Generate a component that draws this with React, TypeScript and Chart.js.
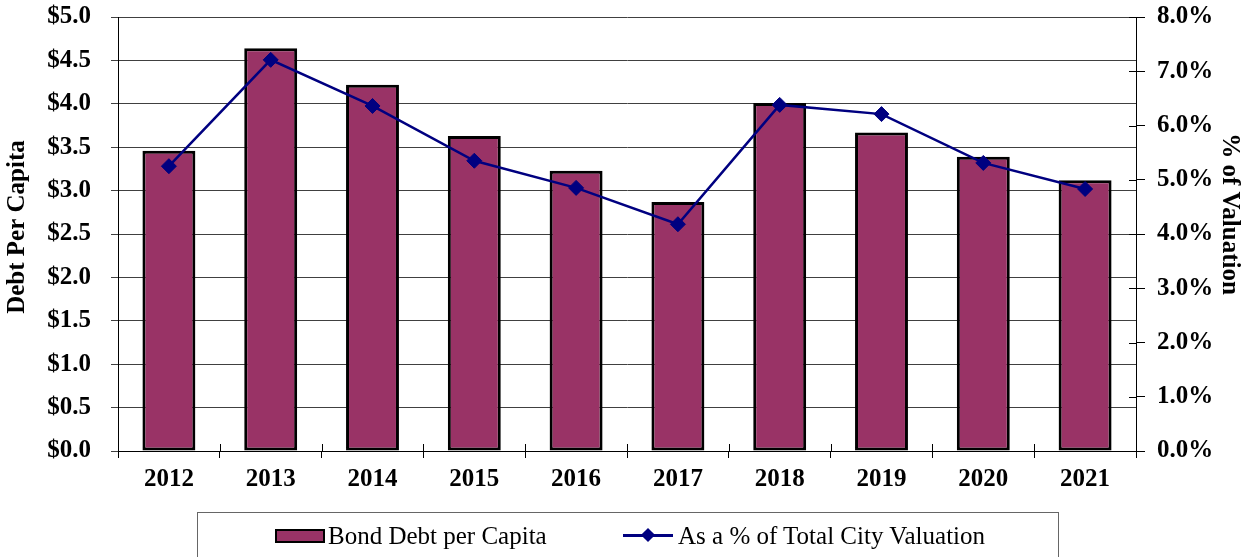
import React, { useEffect, useRef } from "react";
import { Chart, registerables } from "chart.js";

Chart.register(...registerables);

const years = ["2012", "2013", "2014", "2015", "2016", "2017", "2018", "2019", "2020", "2021"];
const debtPerCapita = [3.46, 4.64, 4.22, 3.63, 3.23, 2.87, 4.01, 3.67, 3.39, 3.12];
const pctValuation = [5.25, 7.21, 6.36, 5.35, 4.85, 4.18, 6.38, 6.21, 5.31, 4.83];
const leftTitle = "Debt Per Capita";
const rightTitle = "% of Valuation";
const barLabel = "Bond Debt per Capita";
const lineLabel = "As a % of Total City Valuation";

const FONT = "'Liberation Serif', 'Times New Roman', serif";
const BAR_COLOR = "#993366";
const LINE_COLOR = "#000080";

const extrasPlugin = {
  id: "extras",
  afterDraw(chart: any) {
    const ctx = chart.ctx;
    const area = chart.chartArea;
    const y1 = chart.scales.y1;
    ctx.save();
    ctx.strokeStyle = "#000";
    ctx.lineWidth = 1;
    const n = years.length;
    for (let i = 0; i <= n; i++) {
      const px = Math.round(area.left + ((area.right - area.left) * i) / n) + 0.5;
      ctx.beginPath();
      ctx.moveTo(px, area.bottom - 7);
      ctx.lineTo(px, area.bottom);
      ctx.stroke();
    }
    y1.ticks.forEach((t: any) => {
      const py = Math.round(y1.getPixelForValue(t.value)) + 0.5;
      ctx.beginPath();
      ctx.moveTo(area.right - 7, py);
      ctx.lineTo(area.right, py);
      ctx.stroke();
    });
    ctx.fillStyle = "#000";
    ctx.font = `bold 25px ${FONT}`;
    ctx.textAlign = "center";
    ctx.textBaseline = "middle";
    ctx.save();
    ctx.translate(18, 227);
    ctx.rotate(-Math.PI / 2);
    ctx.fillText(leftTitle, 0, 0);
    ctx.restore();
    ctx.save();
    ctx.translate(1229, 214);
    ctx.rotate(Math.PI / 2);
    ctx.fillText(rightTitle, 0, 0);
    ctx.restore();
    ctx.restore();
  },
};

function fixVertical(width: number) {
  return (scale: any) => {
    scale.width = width;
    scale.paddingTop = 0;
    scale.paddingBottom = 0;
  };
}

export default function App() {
  const canvasRef = useRef<HTMLCanvasElement | null>(null);

  useEffect(() => {
    if (!canvasRef.current) return;
    const chart = new Chart(canvasRef.current, {
      type: "bar",
      data: {
        labels: years,
        datasets: [
          {
            type: "line",
            label: lineLabel,
            data: pctValuation,
            yAxisID: "y1",
            borderColor: LINE_COLOR,
            backgroundColor: LINE_COLOR,
            borderWidth: 2.5,
            pointStyle: "rectRot",
            pointRadius: 7.5,
            pointBorderWidth: 1,
            pointBackgroundColor: LINE_COLOR,
            pointBorderColor: LINE_COLOR,
            tension: 0,
            order: 0,
          },
          {
            type: "bar",
            label: barLabel,
            data: debtPerCapita,
            yAxisID: "y",
            backgroundColor: BAR_COLOR,
            borderColor: "#000",
            borderWidth: 3,
            borderSkipped: false,
            barPercentage: 0.52,
            categoryPercentage: 1,
            order: 1,
          },
        ],
      },
      options: {
        responsive: false,
        animation: false,
        layout: { padding: { top: 17, left: 0, right: 0, bottom: 0 } },
        plugins: {
          legend: { display: false },
          tooltip: { enabled: false },
        },
        scales: {
          x: {
            afterFit(scale: any) {
              scale.height = 106;
            },
            offset: true,
            grid: {
              offset: true,
              drawOnChartArea: false,
              drawTicks: true,
              tickLength: 7,
              color: "#000",
            },
            border: { color: "#000", width: 1 },
            ticks: {
              color: "#000",
              font: { family: FONT, size: 25, weight: "bold" },
              padding: 7,
              maxRotation: 0,
            },
          },
          y: {
            position: "left",
            min: 0,
            max: 5,
            afterFit: fixVertical(118),
            grid: {
              color: "#404040",
              lineWidth: 1,
              tickLength: 7,
            },
            border: { color: "#000", width: 1 },
            ticks: {
              stepSize: 0.5,
              color: "#000",
              padding: 20,
              font: { family: FONT, size: 25, weight: "bold" },
              callback: (v: any) => "$" + Number(v).toFixed(1),
            },
          },
          y1: {
            position: "right",
            min: 0,
            max: 8,
            afterFit: fixVertical(107),
            grid: {
              drawOnChartArea: false,
              color: "#000",
              tickLength: 9,
            },
            border: { color: "#000", width: 1 },
            ticks: {
              stepSize: 1,
              color: "#000",
              padding: 12,
              font: { family: FONT, size: 25, weight: "bold" },
              callback: (v: any) => Number(v).toFixed(1) + "%",
            },
          },
        },
      },
      plugins: [extrasPlugin],
    } as any);
    return () => chart.destroy();
  }, []);

  const textStyle: React.CSSProperties = {
    position: "absolute",
    fontFamily: FONT,
    fontSize: 25,
    lineHeight: "25px",
    color: "#000",
    whiteSpace: "nowrap",
  };

  return (
    <div style={{ position: "absolute", left: 0, top: 0, width: 1243, height: 557, overflow: "hidden", background: "#fff" }}>
      <canvas ref={canvasRef} width={1243} height={557} style={{ position: "absolute", left: 0, top: 0 }} />
      <div
        style={{
          position: "absolute",
          left: 197,
          top: 512,
          width: 862,
          height: 60,
          border: "1px solid #666",
          boxSizing: "border-box",
        }}
      />
      <div
        style={{
          position: "absolute",
          left: 275,
          top: 529,
          width: 50,
          height: 14,
          background: BAR_COLOR,
          border: "2px solid #000",
          boxSizing: "border-box",
        }}
      />
      <div style={{ ...textStyle, left: 328, top: 523 }}>{barLabel}</div>
      <div style={{ position: "absolute", left: 623, top: 534, width: 50, height: 2.5, background: LINE_COLOR }} />
      <div
        style={{
          position: "absolute",
          left: 643,
          top: 530,
          width: 10,
          height: 10,
          background: LINE_COLOR,
          transform: "rotate(45deg)",
        }}
      />
      <div style={{ ...textStyle, left: 678, top: 523 }}>{lineLabel}</div>
    </div>
  );
}
